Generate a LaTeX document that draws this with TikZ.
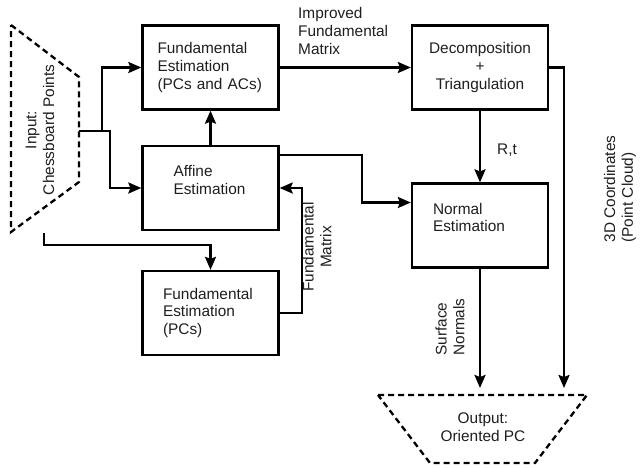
\documentclass[tikz,border=0pt]{standalone}
\usepackage{fontspec}
\setmainfont{Liberation Sans}
\definecolor{LineColor}{RGB}{0,0,0}
\definecolor{TextColor}{RGB}{30,30,30}
\usepackage{tikz}
\usetikzlibrary{positioning, arrows.meta, calc}
\tikzstyle{arrow} = [line width=2.3pt, LineColor, -{Stealth[length=13pt, width=11pt, inset=2pt]}]
\tikzstyle{box} = [rectangle, draw=LineColor, line width=2.3pt, minimum width=136pt, minimum height=84pt, text width=95pt, align=left, text=TextColor]
\tikzstyle{io} = [line width=2.3pt, LineColor, dash pattern=on 6pt off 4pt]
\tikzstyle{lbl} = [text=TextColor, inner sep=0pt]

\begin{document}
\begin{tikzpicture}[x=1pt, y=-1pt, font=\fontsize{15.4}{17.8}\selectfont]
            \useasboundingbox (0,0) rectangle (641,467);

            % Input
            \draw[io] (11,25) -- (79,77) -- (79,182) -- (11,232) -- cycle;
            \node[lbl, rotate=90, align=center] (input) at (40,130) {Input:\\Chessboard Points};
            \coordinate (inR) at (79,131);
            \coordinate (inB) at (44,233);

            % Estimation boxes
            \node[box, text width=106pt] (fe1) at (210.5,67.5) {Fundamental\\Estimation\\(PCs and ACs)};
            \node[box, text width=74pt, text depth=34pt] (affine) at (210.5,188) {Affine\\Estimation};
            \node[box] (fe2) at (210.5,313) {Fundamental\\Estimation\\(PCs)};
            \node[box, text width=112pt, align=center] (decomp) at (480,67.5) {Decomposition\\+\\Triangulation};
            \node[box, text width=94pt, text depth=34pt] (normal) at (480,225.5) {Normal\\Estimation};

            % Output
            \draw[io] (378,395) -- (587,395) -- (535,463) -- (430,463) -- cycle;
            \node[lbl, align=center] (output) at (483,427) {Output:\\Oriented PC};
            \coordinate (outA) at (480,388);
            \coordinate (outB) at (564,388);

            % Connections
            \draw[arrow] (inR) -- ++(23,0) |- (fe1.west);
            \draw[arrow] (inR) -- ++(31,0) |- (affine.west);
            \draw[arrow] (inB) -- ++(0,12) -| (fe2.north);
            \draw[arrow] (affine.north) -- (fe1.south);
            \draw[arrow] (fe1.east) -- (decomp.west);
            \draw[arrow] ([yshift=33pt]affine.east) -- ++(82,0) |- ([yshift=23pt]normal.west);
            \draw[arrow] (fe2.east) -- ++(22,0) |- (affine.east);
            \draw[arrow] (decomp.south) -- (normal.north);
            \draw[arrow] (decomp.east) -| (outB);
            \draw[arrow] (normal.south) -- (outA);

            % Labels
            \node[lbl, anchor=west, align=left] (improved) at (298,31) {Improved\\Fundamental\\Matrix};
            \node[lbl, rotate=90, align=center] (fmat) at (317,247) {Fundamental\\Matrix};
            \node[lbl] (rt) at (507,150) {R,t};
            \node[lbl, rotate=90, align=left] (coords) at (620,189) {3D Coordinates\\(Point Cloud)};
            \node[lbl, rotate=90, align=left] (normals) at (450,327) {Surface\\Normals};
        \end{tikzpicture}
\end{document}
